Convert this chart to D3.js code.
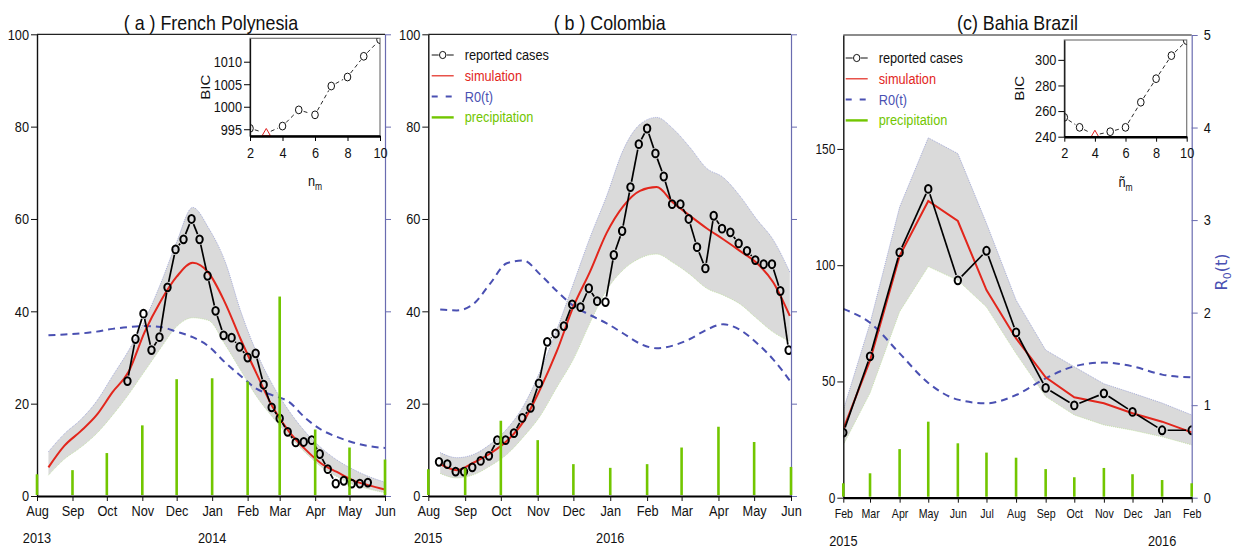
<!DOCTYPE html>
<html>
<head>
<meta charset="utf-8">
<script src="https://cdn.jsdelivr.net/npm/d3@7"></script>
<style>
  body { margin: 0; background: #fff; }
  svg { font-family: "Liberation Sans", Arial, sans-serif; }
</style>
</head>
<body>
<svg id="chart" width="1237" height="548"></svg>
<script>
const parse = d3.timeParse("%Y-%m-%d");

// ---- (a) French Polynesia ----
const aCaseStart = "2013-10-19"; // weekly reports
const aCases = [24.9, 34, 39.5, 31.6, 34.4, 45.2, 53.4, 55.6, 60, 55.6, 47.7, 40.1, 34.8, 34.3, 32.3, 30, 30.9,
                24.1, 19.2, 16.8, 13.9, 11.6, 11.7, 12.1, 9.1, 5.8, 2.7, 3.3, 2.7, 2.7, 2.9];
const aGrid = ["2013-08-11", "2013-08-25", "2013-09-08", "2013-09-22", "2013-10-06", "2013-10-20", "2013-11-03",
               "2013-11-17", "2013-12-01", "2013-12-15", "2013-12-29", "2014-01-12", "2014-01-26", "2014-02-09",
               "2014-02-23", "2014-03-09", "2014-03-23", "2014-04-06", "2014-04-20", "2014-05-04", "2014-05-18", "2014-06-01"];
const aSim   = [6.2, 10.9, 14, 17.5, 22.5, 26.9, 35.5, 42.2, 47.5, 50.5, 48.3, 42, 33.9, 26.4, 19.2, 14, 10.2, 7.1, 5.2, 3.4, 2.3, 1.4];
const aUpper = [9.6, 13.5, 16.5, 20.5, 26, 31.5, 38, 46, 55, 62.5, 58, 51, 40, 31, 24, 18.5, 14, 10.5, 7.8, 5.8, 4.2, 3];
const aLower = [4.5, 8, 10.5, 13.5, 17.5, 22, 27, 32, 36.7, 38.6, 38, 32.9, 27.2, 21.5, 17, 13, 9.5, 6.4, 4.2, 2.5, 1.5, 0.7];
const aR0    = [1.74, 1.75, 1.76, 1.78, 1.81, 1.83, 1.84, 1.83, 1.78, 1.72, 1.62, 1.45, 1.30, 1.16, 1.09, 1.02, 0.85, 0.72, 0.64, 0.58, 0.54, 0.52];
const aRain  = [4.7, 5.6, 9.3, 15.3, 25.3, 25.5, 24.8, 43.2, 14.4, 10.5, 7.9]; // Aug..Jun
const aYears = ["2013", "2014"];
const aYearDates = ["2013-08-01", "2014-01-01"];
const aBicN = [2, 3, 4, 5, 6, 7, 8, 9, 10];
const aBic = [995.2, 994.1, 995.7, 999.3, 998.2, 1004.6, 1006.6, 1011.2, 1014.9];

// ---- (b) Colombia ----
const bCaseStart = "2015-08-10";
const bCases = [7.4, 6.9, 5.3, 5.3, 6.2, 7.6, 8.7, 12.1, 12.1, 13.6, 16.9, 19.1, 24.4, 33.4, 35.2, 36.8, 41.5, 40.9,
                45, 42.2, 42, 52.2, 57.4, 66.9, 76.2, 79.6, 74.2, 69.2, 63.2, 63.2, 60, 53.9, 49.3, 60.7, 57.9, 57.1,
                54.7, 53.1, 51.1, 50.2, 50.2, 44.4, 31.6];
const bGrid = ["2015-08-11", "2015-08-25", "2015-09-08", "2015-09-22", "2015-10-06", "2015-10-20", "2015-11-03",
               "2015-11-17", "2015-12-01", "2015-12-15", "2015-12-29", "2016-01-12", "2016-01-26", "2016-02-09",
               "2016-02-23", "2016-03-08", "2016-03-22", "2016-04-05", "2016-04-19", "2016-05-03", "2016-05-17", "2016-05-31"];
const bSim   = [6.9, 5.6, 7.2, 9.2, 11.9, 16.1, 23.1, 31.3, 41, 48.6, 57, 62.8, 66.1, 66.9, 63.5, 60.7, 58, 55.6, 53.1, 50.5, 46.3, 39];
const bUpper = [9.4, 8.3, 9, 11.2, 14.5, 19.5, 27, 36, 46, 56, 65, 75, 80.5, 82, 79.5, 75.5, 71, 69, 65, 60, 55.5, 48.5];
const bLower = [4.9, 3.9, 4.6, 6.5, 9, 12.8, 17.3, 23.5, 29.6, 37.5, 44.6, 49, 51.5, 52.4, 50.5, 48, 45, 43.5, 41.6, 38.5, 35.5, 33.5];
const bR0    = [2.02, 2.01, 2.08, 2.30, 2.52, 2.55, 2.40, 2.22, 2.06, 1.96, 1.87, 1.76, 1.65, 1.60, 1.63, 1.70, 1.80, 1.86, 1.80, 1.66, 1.48, 1.25];
const bRain  = [5.8, 6, 16.3, 12.1, 6.9, 6.1, 6.9, 10.5, 15, 11.7, 6.3];
const bYears = ["2015", "2016"];
const bYearDates = ["2015-08-01", "2016-01-01"];

// ---- (c) Bahia Brazil (monthly) ----
const cCases = [28, 60.8, 105.5, 132.8, 93.5, 106.2, 71.1, 47.2, 39.7, 44.9, 36.9, 29, 29];
const cSim   = [29.5, 59, 104, 127.6, 119, 89.3, 68.5, 51.8, 43.2, 40.6, 36.3, 32.7, 28.1];
const cUpper = [37.7, 75, 125, 154.8, 148, 118, 85, 63.5, 56.3, 49, 45, 40.7, 35.6];
const cLower = [22.7, 45, 80, 99.4, 93.5, 82, 62, 43.5, 35.6, 31.3, 29, 26.2, 22.7];
const cR0    = [2.04, 1.89, 1.56, 1.24, 1.06, 1.02, 1.11, 1.29, 1.42, 1.46, 1.42, 1.33, 1.30];
const cRain  = [6.2, 10.5, 20.9, 32.7, 23.4, 19.4, 17.2, 12.3, 8.8, 12.8, 10.1, 7.6, 6.2];
const cYears = ["2015", "2016"];
const cYearDates = ["2015-02-01", "2016-01-01"];
const cBicN = [2, 3, 4, 5, 6, 7, 8, 9, 10];
const cBic = [255.1, 247.3, 241.3, 243.9, 247.3, 266.9, 285.3, 303.3, 315];

const legendLabels = ["reported cases", "simulation", "R0(t)", "precipitation"];

const RED = "#e2261c", BLUE = "#4a50b2", AXBLUE = "#6a6cb0", GREEN = "#72c600", GREY = "#dadada";
const SQUEEZE = 0.85; // the original used a narrow Helvetica

const svg = d3.select("#chart");

function gapLines(g, pts, gap, stroke, width, dash) {
  for (let i = 1; i < pts.length; i++) {
    const [x0, y0] = pts[i - 1], [x1, y1] = pts[i];
    const len = Math.hypot(x1 - x0, y1 - y0);
    if (len <= 2 * gap) continue;
    const ux = (x1 - x0) / len, uy = (y1 - y0) / len;
    g.append("line")
      .attr("x1", x0 + ux * gap).attr("y1", y0 + uy * gap)
      .attr("x2", x1 - ux * gap).attr("y2", y1 - uy * gap)
      .attr("stroke", stroke).attr("stroke-width", width)
      .attr("stroke-dasharray", dash || null);
  }
}

function drawPanel(p) {
  const g = svg.append("g");
  const x = d3.scaleTime().domain([parse(p.start), parse(p.end)]).range([p.left, p.right]);
  const y = d3.scaleLinear().domain([0, p.yMax]).range([p.bottom, p.top]);
  const yR = d3.scaleLinear().domain([0, 5]).range([p.bottom, p.top]);
  const months = d3.timeMonth.range(parse(p.start), d3.timeDay.offset(parse(p.end), 1));

  const clipId = "clip-" + p.id;
  g.append("clipPath").attr("id", clipId).append("rect")
    .attr("x", p.left).attr("y", p.top).attr("width", p.right - p.left).attr("height", p.bottom - p.top);
  const plot = g.append("g").attr("clip-path", "url(#" + clipId + ")");

  // uncertainty band
  const band = p.grid.map((d, i) => ({ date: parse(d), hi: p.upper[i], lo: p.lower[i] }));
  plot.append("path").datum(band)
    .attr("fill", GREY)
    .attr("d", d3.area().x(d => x(d.date)).y0(d => y(d.lo)).y1(d => y(d.hi)).curve(p.curve));
  plot.append("path").datum(band)
    .attr("fill", "none").attr("stroke", "#8890d0").attr("stroke-width", 0.7).attr("stroke-dasharray", "1,1")
    .attr("d", d3.line().x(d => x(d.date)).y(d => y(d.hi)).curve(p.curve));
  plot.append("path").datum(band)
    .attr("fill", "none").attr("stroke", "#b8e090").attr("stroke-width", 0.7).attr("stroke-dasharray", "1,1")
    .attr("d", d3.line().x(d => x(d.date)).y(d => y(d.lo)).curve(p.curve));

  // R0(t)
  plot.append("path").datum(p.grid.map((d, i) => [parse(d), p.r0[i]]))
    .attr("fill", "none").attr("stroke", BLUE).attr("stroke-width", 2).attr("stroke-dasharray", "7,5")
    .attr("d", d3.line().x(d => x(d[0])).y(d => yR(d[1])).curve(d3.curveMonotoneX));

  // simulation
  plot.append("path").datum(p.grid.map((d, i) => [parse(d), p.sim[i]]))
    .attr("fill", "none").attr("stroke", RED).attr("stroke-width", 2)
    .attr("d", d3.line().x(d => x(d[0])).y(d => y(d[1])).curve(p.curve));

  // reported cases
  const pts = p.caseDates.map((d, i) => [x(d), y(p.cases[i])]);
  gapLines(plot, pts, 5.5, "#000", 1.7);
  plot.selectAll("ellipse.case").data(pts).enter().append("ellipse")
    .attr("cx", d => d[0]).attr("cy", d => d[1]).attr("rx", 3.2).attr("ry", 3.9)
    .attr("fill", "none").attr("stroke", "#000").attr("stroke-width", 2);

  // frame
  g.append("line").attr("x1", p.left).attr("x2", p.right).attr("y1", p.top).attr("y2", p.top)
    .attr("stroke", p.topColor).attr("stroke-width", 1.3);

  // left axis
  const la = g.append("g").attr("transform", `translate(${p.left},0)`)
    .call(d3.axisLeft(y).tickValues(p.yTicks).tickSize(6).tickSizeOuter(0).tickPadding(2).tickFormat(d3.format("d")));
  la.select(".domain").attr("stroke", "#111").attr("stroke-width", 1.4);
  la.selectAll(".tick line").attr("stroke", "#111");
  la.selectAll("text").attr("font-size", p.yFont).attr("font-family", null).attr("fill", "#111");

  // right axis (R0)
  const ra = g.append("g").attr("transform", `translate(${p.right},0)`)
    .call(d3.axisRight(yR).tickValues([0, 1, 2, 3, 4, 5]).tickSize(6).tickSizeOuter(0).tickPadding(6)
      .tickFormat(p.rightLabels ? d3.format("d") : () => ""));
  ra.select(".domain").attr("stroke", AXBLUE).attr("stroke-width", 1.2);
  ra.selectAll(".tick line").attr("stroke", AXBLUE);
  ra.selectAll("text").attr("font-size", 15).attr("font-family", null).attr("fill", "#111");

  // bottom axis
  const ba = g.append("g").attr("transform", `translate(0,${p.bottom})`)
    .call(d3.axisBottom(x).tickValues(months).tickSize(5).tickSizeOuter(0).tickPadding(p.monthPad)
      .tickFormat(d3.timeFormat("%b")));
  ba.select(".domain").attr("stroke", "#000").attr("stroke-width", 2.2);
  ba.selectAll(".tick line").attr("stroke", "#111");
  ba.selectAll("text").attr("font-size", p.monthFont).attr("font-family", null).attr("fill", "#111");

  // precipitation (drawn over the frame, so the edge bars stay visible)
  g.append("g").selectAll("line").data(p.rain).enter().append("line")
    .attr("x1", (d, i) => x(months[i])).attr("x2", (d, i) => x(months[i]))
    .attr("y1", y(0) - 1).attr("y2", d => y(d))
    .attr("stroke", GREEN).attr("stroke-width", 2.6);

  g.selectAll("text.year").data(p.years).enter().append("text")
    .attr("x", (d, i) => x(parse(p.yearDates[i]))).attr("y", p.bottom + p.yearDy)
    .attr("text-anchor", "middle").attr("font-size", 15).attr("fill", "#111").text(d => d);

  // title
  g.append("text").attr("x", (p.left + p.right) / 2).attr("y", 30.5)
    .attr("text-anchor", "middle").attr("font-size", 21).attr("fill", "#111").text(p.title);

  if (p.legend) drawLegend(g, p.legend.x, p.legend.y);
  return { x, y };
}

function drawLegend(g, lx, ly) {
  const colors = ["#111", RED, BLUE, GREEN];
  const rowH = 20.8;
  legendLabels.forEach((lab, i) => {
    const yy = ly + i * rowH;
    const lg = g.append("g");
    if (i === 0) {
      lg.append("line").attr("x1", lx).attr("x2", lx + 7).attr("y1", yy).attr("y2", yy).attr("stroke", "#111").attr("stroke-width", 1);
      lg.append("line").attr("x1", lx + 15).attr("x2", lx + 22).attr("y1", yy).attr("y2", yy).attr("stroke", "#111").attr("stroke-width", 1);
      lg.append("ellipse").attr("cx", lx + 11).attr("cy", yy).attr("rx", 3.2).attr("ry", 3.6)
        .attr("fill", "none").attr("stroke", "#111").attr("stroke-width", 1);
    } else if (i === 1) {
      lg.append("line").attr("x1", lx).attr("x2", lx + 22).attr("y1", yy).attr("y2", yy).attr("stroke", RED).attr("stroke-width", 1.2);
    } else if (i === 2) {
      lg.append("line").attr("x1", lx).attr("x2", lx + 22).attr("y1", yy).attr("y2", yy).attr("stroke", BLUE)
        .attr("stroke-width", 2).attr("stroke-dasharray", "6,8");
    } else {
      lg.append("line").attr("x1", lx).attr("x2", lx + 22).attr("y1", yy).attr("y2", yy).attr("stroke", GREEN).attr("stroke-width", 2.4);
    }
    lg.append("text").attr("x", lx + 33).attr("y", yy + 5).attr("font-size", 15).attr("fill", colors[i]).text(lab);
  });
}

function drawInset(c) {
  const g = svg.append("g");
  const x = d3.scaleLinear().domain([2, 10]).range([c.left, c.right]);
  const y = d3.scaleLinear().domain(c.yDomain).range([c.bottom, c.top]);
  g.append("rect").attr("x", c.left).attr("y", c.top).attr("width", c.right - c.left).attr("height", c.bottom - c.top)
    .attr("fill", "#fff").attr("stroke", "#777").attr("stroke-width", 1.2);
  const clipId = "clip-inset-" + c.id;
  g.append("clipPath").attr("id", clipId).append("rect")
    .attr("x", c.left).attr("y", c.top).attr("width", c.right - c.left).attr("height", c.bottom - c.top);
  const plot = g.append("g").attr("clip-path", "url(#" + clipId + ")");
  const pts = c.n.map((d, i) => [x(d), y(c.bic[i])]);
  gapLines(plot, pts, 5, "#111", 0.9, "4,3");
  pts.forEach((d, i) => {
    if (c.n[i] === c.best) {
      plot.append("path").attr("d", d3.symbol(d3.symbolTriangle, 30)())
        .attr("transform", `translate(${d[0]},${d[1]})`)
        .attr("fill", "none").attr("stroke", "#e02020").attr("stroke-width", 1);
    } else {
      plot.append("ellipse").attr("cx", d[0]).attr("cy", d[1]).attr("rx", 3.3).attr("ry", 3.9)
        .attr("fill", "none").attr("stroke", "#111").attr("stroke-width", 1);
    }
  });
  const la = g.append("g").attr("transform", `translate(${c.left},0)`)
    .call(d3.axisLeft(y).tickValues(c.yTicks).tickSize(6).tickSizeOuter(0).tickPadding(2).tickFormat(d3.format("d")));
  la.select(".domain").attr("stroke", "#111").attr("stroke-width", 1.3);
  la.selectAll("text").attr("font-size", 15).attr("font-family", null).attr("fill", "#111");
  const ba = g.append("g").attr("transform", `translate(0,${c.bottom})`)
    .call(d3.axisBottom(x).tickValues([2, 4, 6, 8, 10]).tickSize(5).tickSizeOuter(0).tickPadding(6));
  ba.select(".domain").attr("stroke", "#000").attr("stroke-width", 2.4);
  ba.selectAll("text").attr("font-size", 15).attr("font-family", null).attr("fill", "#111");

  g.append("text").attr("class", "rot").attr("transform", `translate(${c.left - 40},${(c.top + c.bottom) / 2}) rotate(-90) scale(1,${SQUEEZE})`)
    .attr("text-anchor", "middle").attr("font-size", 15)
    .attr("fill", "#111").text("BIC");
  const t = g.append("text").attr("x", (c.left + c.right) / 2).attr("y", c.bottom + 50)
    .attr("text-anchor", "middle").attr("font-size", 15).attr("fill", "#111");
  t.append("tspan").text(c.xLabel);
  t.append("tspan").attr("dy", 4).attr("font-size", 10).text("m");
}

const weekly = (start, vals) => vals.map((v, i) => d3.timeDay.offset(parse(start), 7 * i));
const cMonthStr = d3.timeMonth.range(parse("2015-02-01"), parse("2016-02-02")).map(d3.timeFormat("%Y-%m-%d"));

drawPanel({
  id: "a", title: "( a ) French Polynesia", start: "2013-08-01", end: "2014-06-01",
  left: 37, right: 385, top: 34.3, bottom: 496, yMax: 100, yTicks: [0, 20, 40, 60, 80, 100], yFont: 15,
  grid: aGrid, sim: aSim, upper: aUpper, lower: aLower, r0: aR0, rain: aRain,
  caseDates: weekly(aCaseStart, aCases), cases: aCases, curve: d3.curveMonotoneX, topColor: "#222",
  years: aYears, yearDates: aYearDates, monthFont: 15, monthPad: 4, yearDy: 47, rightLabels: false
});
drawPanel({
  id: "b", title: "( b ) Colombia", start: "2015-08-01", end: "2016-06-01",
  left: 428.3, right: 791, top: 34.3, bottom: 496, yMax: 100, yTicks: [0, 20, 40, 60, 80, 100], yFont: 15,
  grid: bGrid, sim: bSim, upper: bUpper, lower: bLower, r0: bR0, rain: bRain,
  caseDates: weekly(bCaseStart, bCases), cases: bCases, curve: d3.curveMonotoneX, topColor: "#222",
  years: bYears, yearDates: bYearDates, monthFont: 15, monthPad: 4, yearDy: 47, rightLabels: false,
  legend: { x: 431.7, y: 55 }
});
drawPanel({
  id: "c", title: "(c) Bahia Brazil", start: "2015-02-01", end: "2016-02-01",
  left: 843.3, right: 1191.7, top: 35, bottom: 497.7, yMax: 199, yTicks: [0, 50, 100, 150], yFont: 14,
  grid: cMonthStr, sim: cSim, upper: cUpper, lower: cLower, r0: cR0, rain: cRain,
  caseDates: cMonthStr.map(parse), cases: cCases, curve: d3.curveLinear, topColor: "#666",
  years: cYears, yearDates: cYearDates, monthFont: 12.5, monthPad: 6, yearDy: 48, rightLabels: true,
  legend: { x: 845.7, y: 58 }
});

drawInset({ id: "a", left: 250, right: 380, top: 38.3, bottom: 136, yDomain: [993.5, 1015.2],
  yTicks: [995, 1000, 1005, 1010], n: aBicN, bic: aBic, best: 3, xLabel: "n" });
drawInset({ id: "c", left: 1064.3, right: 1186.7, top: 40, bottom: 136.7, yDomain: [240, 315.5],
  yTicks: [240, 260, 280, 300], n: cBicN, bic: cBic, best: 4, xLabel: "ñ" });

// squeeze all horizontal text to mimic the narrow face, keeping its anchor point fixed
svg.selectAll("text").filter(function () { return !this.classList.contains("rot"); })
  .attr("transform", function () {
    const x0 = +this.getAttribute("x") || 0;
    return `translate(${x0},0) scale(${SQUEEZE},1) translate(${-x0},0)`;
  });

// R0 axis title
const r0t = svg.append("text").attr("transform", "translate(1227,272) rotate(-90)")
  .attr("text-anchor", "middle").attr("font-family", "DejaVu Sans, sans-serif").attr("font-size", 16).attr("fill", BLUE);
r0t.append("tspan").text("R");
r0t.append("tspan").attr("dy", 4).attr("font-size", 11).text("0");
r0t.append("tspan").attr("dy", -4).text("(t)");
</script>
</body>
</html>
